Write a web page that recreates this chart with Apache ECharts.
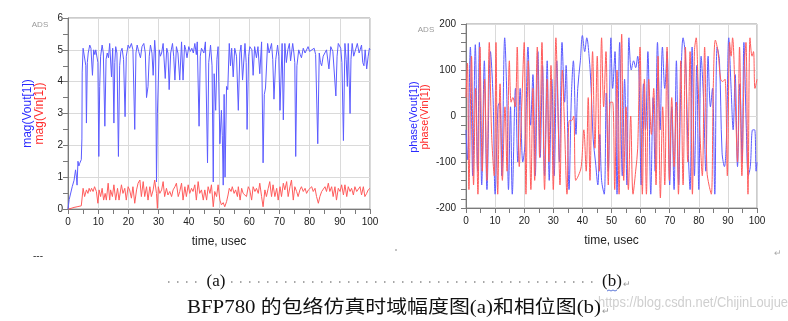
<!DOCTYPE html>
<html><head><meta charset="utf-8">
<script src="https://cdn.jsdelivr.net/npm/echarts@6/dist/echarts.min.js"></script>
<style>html,body{margin:0;padding:0;background:#fff;}#c{width:788px;height:321px;}</style>
</head><body><div id="c"></div>
<script>
// ---------- DATA ----------
const xName = 'time, usec';
const leftYNames = ['mag(Vout[1])', 'mag(Vin[1])'];
const rightYNames = ['phase(Vout[1])', 'phase(Vin[1])'];
const caption = 'BFP780 的包络仿真时域幅度图(a)和相位图(b)';
const subLabels = ['(a)', '(b)'];
const watermark = 'https://blog.csdn.net/ChijinLoujue';
const toolTag = 'ADS';

// mag(Vout[1]) : [time usec, magnitude]
const magVout = [[0,0],[0.4,0.3],[0.8,0.35],[1.4,0.7],[2.0,0.9],[2.5,1.23],[2.8,1.0],[3.0,0.75],[3.3,1.5],[3.6,1.35],[3.9,1.44],[4.2,1.5],[4.4,1.55],[4.6,2.2],[4.7,4.3],[5.0,5.05],[5.4,5.05],[5.6,5.0],[5.9,4.5],[6.1,2.7],[6.4,4.6],[6.7,4.9],[7.2,5.15],[7.6,5.05],[8.1,4.2],[8.5,5.0],[8.9,4.85],[9.2,5.0],[9.6,5.05],[9.9,4.6],[10.2,1.65],[10.5,3.85],[10.8,4.8],[11.3,5.15],[11.7,4.9],[12.2,2.6],[12.6,4.7],[13.0,4.9],[13.4,4.75],[13.8,5.2],[14.4,4.15],[14.8,5.05],[15.2,2.7],[15.5,4.6],[15.8,5.1],[16.2,4.9],[16.7,1.65],[17.1,4.5],[17.5,4.95],[17.9,5.05],[18.4,4.7],[18.9,2.9],[19.3,4.8],[19.9,5.15],[20.4,5.05],[21.0,5.2],[21.5,5.0],[22.1,2.5],[22.5,4.9],[22.9,5.15],[23.4,4.95],[24.0,4.75],[24.5,5.1],[25.1,5.2],[25.6,4.9],[26.0,3.5],[26.5,3.85],[26.9,4.8],[27.3,5.15],[27.8,4.9],[28.2,4.2],[28.7,5.3],[29.0,4.9],[29.3,0.85],[29.6,3.0],[30.2,5.0],[30.6,4.8],[31.0,4.9],[31.5,5.2],[32.2,4.1],[32.7,5.05],[33.1,4.9],[33.5,3.75],[34.0,4.9],[34.6,5.2],[35.0,4.8],[35.4,4.05],[35.9,5.1],[36.4,4.9],[37.0,4.05],[37.6,5.25],[38.1,4.05],[38.6,5.15],[39.0,5.0],[39.4,4.75],[40.0,5.1],[40.5,4.95],[41.0,5.05],[41.5,4.9],[42.0,5.2],[42.5,4.85],[42.8,5.25],[43.4,2.6],[43.8,4.8],[44.2,5.05],[45.0,4.9],[45.5,5.25],[46.2,1.45],[46.6,4.6],[47.2,5.15],[47.7,4.5],[48.1,0.85],[48.4,4.25],[48.9,3.1],[49.3,4.7],[49.7,5.1],[50.3,2.05],[50.8,3.1],[51.1,2.3],[51.4,0.75],[51.7,3.6],[52.0,1.0],[52.5,3.85],[52.9,3.75],[53.4,5.2],[53.8,4.5],[54.2,5.05],[54.7,4.15],[55.2,5.05],[55.8,4.8],[56.4,3.1],[56.9,4.9],[57.3,5.15],[57.8,4.05],[58.6,5.2],[59.0,4.6],[59.3,2.5],[59.8,4.8],[60.2,5.1],[60.9,5.0],[61.3,4.2],[61.8,5.1],[62.4,4.75],[62.9,5.1],[63.5,4.25],[64.1,5.25],[64.6,1.45],[65.0,3.6],[65.4,3.8],[66.1,5.2],[66.6,4.9],[67.4,5.2],[67.8,4.7],[68.2,3.45],[68.8,4.7],[69.4,5.15],[69.8,4.8],[70.2,3.1],[70.9,5.2],[71.3,2.8],[71.8,5.2],[72.3,4.6],[72.8,5.0],[73.3,5.2],[73.7,4.65],[74.4,5.2],[74.8,4.9],[75.1,4.6],[75.4,1.65],[75.8,4.5],[76.4,5.0],[76.9,4.85],[77.3,4.75],[77.9,5.05],[78.5,4.9],[79.5,5.1],[80.0,4.95],[80.6,5.0],[81.5,5.05],[82.0,4.85],[82.7,2.05],[83.2,4.9],[83.6,4.6],[84.0,4.5],[84.5,4.8],[85.0,4.75],[85.6,5.0],[86.4,4.4],[87.0,5.1],[87.7,4.95],[88.2,4.9],[88.7,3.55],[89.1,4.8],[89.5,5.2],[90.3,5.05],[90.7,4.6],[91.2,2.15],[91.7,5.2],[92.1,4.7],[92.5,3.85],[92.8,5.2],[93.4,3.0],[93.7,4.7],[94.1,5.2],[94.6,4.8],[95.0,4.75],[95.8,5.2],[96.4,4.9],[97.2,5.15],[97.6,4.6],[98.0,4.5],[98.4,5.0],[98.9,4.4],[99.4,4.8],[99.8,5.05],[100,5.0]];

// mag(Vin[1])
const magVin = [[0,0],[1,0.02],[2,0.05],[3,0.07],[4.4,0.1],[5.0,0.65],[5.5,0.39],[6.1,0.6],[6.6,0.49],[7.0,0.65],[7.4,0.55],[7.8,0.65],[8.3,0.55],[8.8,0.7],[9.4,0.55],[9.9,0.18],[10.3,0.6],[10.8,0.39],[11.3,0.65],[11.8,0.28],[12.3,0.49],[12.7,0.28],[13.3,0.81],[13.8,0.28],[14.1,0.6],[14.7,0.39],[15.2,0.76],[15.8,0.28],[16.4,0.65],[16.9,0.28],[17.7,0.76],[18.2,0.49],[18.8,0.65],[19.3,0.28],[19.9,0.7],[20.4,0.6],[21.0,0.34],[21.5,0.7],[22.1,0.18],[22.7,0.6],[23.2,0.81],[23.8,0.91],[24.3,0.39],[24.9,0.86],[25.4,0.39],[26.0,0.7],[26.5,0.28],[27.1,0.7],[27.6,0.39],[28.2,0.6],[28.7,0.91],[29.3,0.49],[29.6,0.02],[29.9,0.7],[30.4,0.49],[31.0,0.6],[31.5,0.86],[32.0,0.39],[32.6,0.65],[33.1,0.44],[33.7,0.55],[34.3,0.39],[34.8,0.6],[35.4,0.7],[35.9,0.81],[36.5,0.39],[37.0,0.55],[37.6,0.81],[38.1,0.28],[38.7,0.7],[39.2,0.39],[39.8,0.76],[40.3,0.49],[40.9,0.65],[41.4,0.55],[42.0,0.76],[42.5,0.28],[43.1,0.86],[43.6,0.49],[44.2,0.6],[44.8,0.28],[45.3,0.6],[45.9,0.28],[46.4,0.7],[47.0,0.49],[47.5,0.76],[48.1,0.07],[48.6,0.55],[49.2,0.39],[49.7,0.76],[50.3,0.28],[50.8,0.13],[51.4,0.2],[51.9,0.07],[52.5,0.23],[53.0,0.44],[53.4,0.65],[54.0,0.55],[54.4,0.7],[55.0,0.49],[55.5,0.6],[56.1,0.39],[56.4,0.7],[57.0,0.28],[57.5,0.65],[58.0,0.49],[58.6,0.55],[59.1,0.39],[59.7,0.7],[60.2,0.6],[60.8,0.28],[61.3,0.7],[61.9,0.55],[62.4,0.65],[63.0,0.49],[63.5,0.81],[64.1,0.39],[64.6,0.07],[65.2,0.6],[65.7,0.39],[66.3,0.65],[66.8,0.86],[67.4,0.39],[67.9,0.76],[68.5,0.39],[69.1,0.65],[69.6,0.28],[70.2,0.7],[70.7,0.39],[71.3,0.81],[71.8,0.6],[72.4,0.86],[72.9,0.39],[73.5,0.7],[74.0,0.91],[74.6,0.28],[75.1,0.7],[75.7,0.55],[76.2,0.39],[76.8,0.6],[77.3,0.7],[77.9,0.55],[78.5,0.65],[79.0,0.49],[79.6,0.6],[80.1,0.55],[80.7,0.7],[81.2,0.55],[81.8,0.65],[82.3,0.39],[82.9,0.18],[83.4,0.39],[84.0,0.55],[84.5,0.49],[85.1,0.7],[85.6,0.55],[86.2,0.81],[86.7,0.55],[87.3,0.7],[87.8,0.39],[88.4,0.7],[88.9,0.28],[89.5,0.65],[90.1,0.55],[90.6,0.76],[91.2,0.44],[91.7,0.76],[92.3,0.39],[92.8,0.7],[93.4,0.55],[93.9,0.65],[94.5,0.44],[95.0,0.7],[95.6,0.55],[96.1,0.6],[96.7,0.7],[97.2,0.44],[97.8,0.7],[98.3,0.39],[98.9,0.49],[99.4,0.6],[100,0.65]];

// phase(Vout[1]) : [time usec, degrees]
const phaseVout = [[0,-30],[0.5,-95],[1.5,150],[2.3,-130],[3.2,155],[4.0,-120],[4.6,160],[5.4,-150],[6.3,120],[7.2,-160],[8.4,140],[9.3,40],[10.0,-170],[11.0,20],[11.6,30],[12.3,-130],[13.3,170],[14.0,50],[14.6,-160],[15.3,20],[15.9,-170],[17.0,60],[17.8,-100],[18.6,60],[19.5,-100],[20.3,-60],[21.3,150],[22.2,-20],[23.0,90],[23.8,-130],[24.7,140],[25.5,-90],[26.3,110],[27.0,-130],[27.9,120],[28.6,-140],[29.5,80],[30.3,-130],[31.2,120],[32.1,-100],[33.0,160],[33.9,30],[34.4,110],[35.4,-160],[36.2,40],[36.9,120],[37.8,-40],[38.4,60],[39.3,120],[40.0,175],[40.8,140],[41.5,170],[42.3,130],[43.0,60],[43.7,-50],[44.5,-100],[45.3,-150],[46.0,-40],[46.6,-140],[47.5,-170],[48.2,50],[48.9,-120],[49.8,170],[50.4,60],[51.2,140],[51.9,-170],[52.8,160],[53.7,-130],[54.5,80],[55.3,-150],[56.0,170],[56.8,100],[57.6,120],[58.3,105],[59.0,130],[59.5,80],[60.2,-150],[61.0,70],[61.7,-30],[62.5,140],[63.5,-170],[64.3,40],[65.0,-120],[65.8,160],[66.7,-30],[67.5,150],[68.3,60],[69.1,140],[70.0,-150],[70.7,20],[71.5,-160],[72.3,120],[73.1,-150],[73.8,60],[74.6,170],[75.4,130],[76.2,-50],[77.0,-160],[77.7,150],[78.5,-130],[79.3,110],[80.0,-160],[80.8,130],[81.6,40],[82.4,-120],[83.2,130],[84.0,20],[84.7,60],[85.5,-170],[86.3,150],[87.1,120],[88.0,-80],[88.8,-110],[89.5,-50],[90.3,170],[91.1,60],[91.8,-30],[92.5,90],[93.3,-110],[94.1,70],[94.9,-100],[95.5,160],[96.3,-20],[97.0,-130],[97.7,-110],[98.5,-30],[99.2,-30],[99.7,-120],[100,-100]];

// phase(Vin[1])
const phaseVin = [[0,40],[0.5,115],[1.0,-160],[1.9,130],[2.6,-150],[3.3,60],[4.1,-170],[4.8,150],[5.6,-120],[6.4,80],[7.2,-140],[8.0,160],[8.8,-40],[9.7,-130],[10.3,160],[10.9,-170],[11.7,70],[12.5,-140],[13.4,20],[14.1,-120],[14.9,120],[15.5,30],[16.1,40],[16.9,20],[17.6,150],[18.3,-110],[19.2,30],[20.0,160],[20.6,-170],[21.4,120],[22.3,-160],[23.0,60],[23.6,-140],[24.5,150],[25.3,-90],[26.1,160],[27.0,-160],[27.9,80],[28.5,-100],[29.2,110],[30.0,-160],[30.9,170],[31.6,10],[32.3,-150],[33.1,100],[33.9,-30],[34.7,-170],[35.5,-10],[36.3,-10],[37.0,0],[37.7,-140],[38.6,-130],[39.6,-110],[40.5,-30],[41.3,-120],[42.0,40],[42.6,-140],[43.5,140],[44.3,-70],[45.1,130],[45.8,-120],[46.6,170],[47.3,20],[48.1,140],[48.9,-150],[49.6,30],[50.4,30],[51.1,-160],[51.9,100],[52.6,-170],[53.5,178],[54.2,-140],[55.0,20],[55.8,-160],[56.6,0],[57.4,-170],[58.3,-120],[59.0,-70],[59.8,150],[60.6,-170],[61.3,80],[62.0,-170],[62.8,80],[63.7,-40],[64.5,60],[65.3,-150],[66.0,130],[66.8,-178],[67.6,20],[68.3,-150],[69.1,150],[69.9,-140],[70.7,40],[71.5,-110],[72.3,30],[73.0,-170],[73.8,120],[74.6,-150],[75.4,150],[76.2,-100],[77.0,140],[77.8,-170],[78.5,140],[79.1,170],[79.7,80],[80.4,-40],[81.2,-130],[82.0,150],[82.8,-120],[83.5,-150],[84.3,-170],[85.0,70],[85.7,165],[86.6,140],[87.5,80],[88.2,75],[89.0,80],[89.8,-130],[90.6,160],[91.1,130],[91.6,170],[92.5,40],[93.3,-100],[94.0,150],[94.8,-130],[95.6,100],[96.2,160],[96.9,-170],[97.6,170],[98.3,130],[98.8,140],[99.3,60],[100,80]];

// ---------- STYLE ----------
const SANS = '"Liberation Sans",Arial,sans-serif';
const SERIF = '"Liberation Serif","Times New Roman","Noto Sans CJK SC",serif';
const BLUE = '#5c5cff', RED = '#ff5c5c';
const NAME_BLUE = '#2a2aff', NAME_RED = '#ff2a2a';
const AXIS = '#7a7a7a', SPLIT = '#dadada';

function measure(text, font) {
  const ctx = document.createElement('canvas').getContext('2d');
  ctx.font = font; return ctx.measureText(text).width;
}

function xAxisCfg(gi) {
  return {
    gridIndex: gi, type: 'value', min: 0, max: 100, interval: 10,
    axisLine: { show: true, onZero: false, lineStyle: { color: AXIS, width: 1 } },
    axisTick: { show: true, length: 5, lineStyle: { color: AXIS } },
    minorTick: { show: true, splitNumber: 2, length: 5, lineStyle: { color: AXIS } },
    splitLine: { show: true, lineStyle: { color: SPLIT, width: 1 } },
    minorSplitLine: { show: false },
    axisLabel: { show: true, margin: 8, fontSize: 10, color: '#222', fontFamily: SANS, showMinLabel: true, showMaxLabel: true, hideOverlap: false },
    name: xName, nameLocation: 'middle', nameGap: 27,
    nameTextStyle: { fontSize: 12, color: '#222', fontFamily: SANS }
  };
}
function yAxisCfg(gi, min, max, interval, minorSplit, margin) {
  return {
    gridIndex: gi, type: 'value', min, max, interval,
    axisLine: { show: true, onZero: false, lineStyle: { color: AXIS, width: 1 } },
    axisTick: { show: true, length: 5, lineStyle: { color: AXIS } },
    minorTick: { show: true, splitNumber: minorSplit, length: 5, lineStyle: { color: AXIS } },
    splitLine: { show: true, lineStyle: { color: SPLIT, width: 1 } },
    axisLabel: { show: true, margin, fontSize: 10, color: '#222', fontFamily: SANS, showMinLabel: true, showMaxLabel: true, hideOverlap: false }
  };
}

const capFont = '18px ' + SERIF;
const capW = measure(caption, capFont);
const wmFont = '14px ' + SANS;
const wmW = measure(watermark, wmFont);

const graphics = [
  { type: 'text', x: 40, y: 25, style: { text: toolTag, fill: '#9a9a9a', font: '8px ' + SANS, textAlign: 'center', textVerticalAlign: 'middle' } },
  { type: 'text', x: 426, y: 30, style: { text: toolTag, fill: '#9a9a9a', font: '8px ' + SANS, textAlign: 'center', textVerticalAlign: 'middle' } },
  { type: 'text', x: 28, y: 113.5, rotation: Math.PI / 2, style: { text: leftYNames[0], fill: NAME_BLUE, font: '12px ' + SANS, textAlign: 'center', textVerticalAlign: 'middle' } },
  { type: 'text', x: 40, y: 113.5, rotation: Math.PI / 2, style: { text: leftYNames[1], fill: NAME_RED, font: '12px ' + SANS, textAlign: 'center', textVerticalAlign: 'middle' } },
  { type: 'text', x: 414, y: 117, rotation: Math.PI / 2, style: { text: rightYNames[0], fill: NAME_BLUE, font: '11px ' + SANS, textAlign: 'center', textVerticalAlign: 'middle' } },
  { type: 'text', x: 425, y: 117, rotation: Math.PI / 2, style: { text: rightYNames[1], fill: NAME_RED, font: '11px ' + SANS, textAlign: 'center', textVerticalAlign: 'middle' } },
  // page marks below charts
  { type: 'text', x: 33, y: 256, style: { text: '---', fill: '#333', font: '10px ' + SANS, textAlign: 'left', textVerticalAlign: 'middle' } },
  { type: 'circle', shape: { cx: 396, cy: 250, r: 0.8 }, style: { fill: '#777' } },
  { type: 'text', x: 778, y: 254, style: { text: '↵', fill: '#aaa', font: '9px ' + SANS, textAlign: 'center', textVerticalAlign: 'middle' } },
  { type: 'line', shape: { x1: 168, y1: 282, x2: 202, y2: 282 }, style: { stroke: '#8a8a8a', lineWidth: 1.5, lineDash: [1.5, 7.5] } },
  { type: 'line', shape: { x1: 231, y1: 282, x2: 598, y2: 282 }, style: { stroke: '#8a8a8a', lineWidth: 1.5, lineDash: [1.5, 7.5] } },
  { type: 'text', x: 216, y: 282, style: { text: subLabels[0], fill: '#111', font: '17px ' + SERIF, textAlign: 'center', textVerticalAlign: 'middle' } },
  { type: 'text', x: 612, y: 282, style: { text: subLabels[1], fill: '#111', font: '17px ' + SERIF, textAlign: 'center', textVerticalAlign: 'middle' } },
  { type: 'polyline', shape: { points: [[607,291],[609,290],[611,291],[613,290],[615,291],[617,290]] }, style: { stroke: '#3355cc', lineWidth: 0.8, fill: null } },
  { type: 'text', x: 627, y: 285, style: { text: '↵', fill: '#999', font: '9px ' + SANS, textAlign: 'center', textVerticalAlign: 'middle' } },
  { type: 'text', x: 598, y: 303, scaleX: 190 / wmW, originX: 0, originY: 0, style: { text: watermark, fill: '#cfcfcf', font: wmFont, textAlign: 'left', textVerticalAlign: 'middle' } },
  { type: 'text', x: 187, y: 308, scaleX: 414 / capW, originX: 0, originY: 0, style: { text: caption, fill: '#111', font: capFont, textAlign: 'left', textVerticalAlign: 'middle' } },
  { type: 'text', x: 606, y: 312, style: { text: '↵', fill: '#999', font: '9px ' + SANS, textAlign: 'center', textVerticalAlign: 'middle' } }
];

const chart = echarts.init(document.getElementById('c'), null, { renderer: 'canvas' });
chart.setOption({
  animation: false,
  backgroundColor: '#ffffff',
  grid: [
    { left: 68, top: 18, width: 302, height: 191, show: true, borderColor: '#999', borderWidth: 1, backgroundColor: 'transparent', containLabel: false, outerBoundsMode: 'none' },
    { left: 466, top: 24, width: 291, height: 184, show: true, borderColor: '#999', borderWidth: 1, backgroundColor: 'transparent', containLabel: false, outerBoundsMode: 'none' }
  ],
  xAxis: [xAxisCfg(0), xAxisCfg(1)],
  yAxis: [yAxisCfg(0, 0, 6, 1, 2, 5), yAxisCfg(1, -200, 200, 100, 5, 10)],
  series: [
    { type: 'line', name: leftYNames[1], xAxisIndex: 0, yAxisIndex: 0, data: magVin, symbol: 'none', lineStyle: { color: RED, width: 1 }, itemStyle: { color: RED }, z: 2 },
    { type: 'line', name: leftYNames[0], xAxisIndex: 0, yAxisIndex: 0, data: magVout, symbol: 'none', lineStyle: { color: BLUE, width: 1 }, itemStyle: { color: BLUE }, z: 3 },
    { type: 'line', name: rightYNames[0], xAxisIndex: 1, yAxisIndex: 1, data: phaseVout, symbol: 'none', smooth: 0.35, lineStyle: { color: BLUE, width: 1 }, itemStyle: { color: BLUE }, z: 2 },
    { type: 'line', name: rightYNames[1], xAxisIndex: 1, yAxisIndex: 1, data: phaseVin, symbol: 'none', smooth: 0.35, lineStyle: { color: RED, width: 1 }, itemStyle: { color: RED }, z: 3 }
  ],
  graphic: graphics
});
</script>
</body></html>
